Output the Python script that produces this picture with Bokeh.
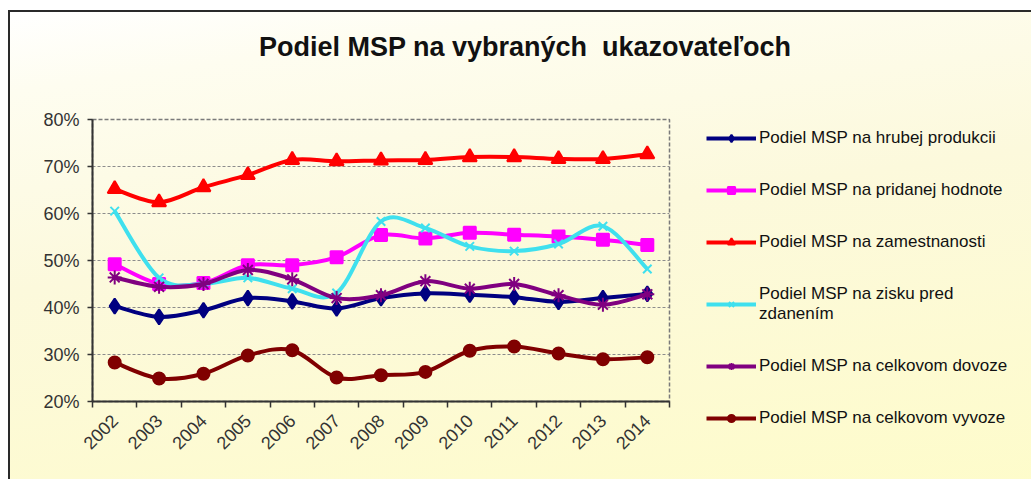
import numpy as np
from math import pi
from bokeh.plotting import figure
from bokeh.layouts import column
from bokeh.models import (FixedTicker, Legend, LegendItem, Range1d, Div,
                          PrintfTickFormatter)
from bokeh.embed import file_html
from bokeh.resources import INLINE

years = [2002, 2003, 2004, 2005, 2006, 2007, 2008, 2009, 2010, 2011, 2012, 2013, 2014]

hrubej_produkcii = [40.3, 38.0, 39.4, 42.0, 41.3, 39.8, 42.0, 43.0, 42.7, 42.2, 41.2, 42.0, 42.9]
pridanej_hodnote = [49.2, 45.0, 45.2, 49.0, 49.0, 50.7, 55.4, 54.7, 55.9, 55.5, 55.1, 54.4, 53.3]
zamestnanosti = [65.2, 62.4, 65.6, 68.2, 71.4, 71.1, 71.3, 71.4, 72.0, 72.0, 71.6, 71.6, 72.6]
zisku_pred_zdanenim = [60.5, 46.3, 45.0, 46.3, 44.0, 43.1, 58.3, 56.9, 53.0, 52.0, 53.5, 57.3, 48.2]
celkovom_dovoze = [46.4, 44.4, 45.0, 48.0, 46.0, 42.0, 42.6, 45.6, 44.0, 45.0, 42.6, 40.6, 42.8]
celkovom_vyvoze = [28.3, 24.9, 25.9, 29.8, 30.9, 25.1, 25.6, 26.3, 30.8, 31.7, 30.2, 29.0, 29.4]

labels = [
    "Podiel MSP na hrubej produkcii",
    "Podiel MSP na pridanej hodnote",
    "Podiel MSP na zamestnanosti",
    "Podiel MSP na zisku pred\nzdanením",
    "Podiel MSP na celkovom dovoze",
    "Podiel MSP na celkovom vyvoze",
]
y_ticks = [20, 30, 40, 50, 60, 70, 80]
title_text = "Podiel MSP na vybraných  ukazovateľoch"

styles = [
    ("#000080", "diamond", 15),
    ("#FF00FF", "square", 12),
    ("#FF0000", "triangle", 14),
    ("#3FE0EE", "x", 12),
    ("#800080", "asterisk", 14),
    ("#800000", "circle", 12),
]
series = [hrubej_produkcii, pridanej_hodnote, zamestnanosti,
          zisku_pred_zdanenim, celkovom_dovoze, celkovom_vyvoze]


def smooth_controls(xs, ys):
    xs = np.asarray(xs, float)
    ys = np.asarray(ys, float)
    qx = np.concatenate([[xs[0]], xs, [xs[-1]]])
    qy = np.concatenate([[ys[0]], ys, [ys[-1]]])
    i = np.arange(len(xs) - 1)
    cx0 = qx[i + 1] + (qx[i + 2] - qx[i]) / 6.0
    cy0 = qy[i + 1] + (qy[i + 2] - qy[i]) / 6.0
    cx1 = qx[i + 2] - (qx[i + 3] - qx[i + 1]) / 6.0
    cy1 = qy[i + 2] - (qy[i + 3] - qy[i + 1]) / 6.0
    return dict(x0=xs[:-1], y0=ys[:-1], x1=xs[1:], y1=ys[1:],
                cx0=cx0, cy0=cy0, cx1=cx1, cy1=cy1)


FW = 1020
DIV_H = 60
p = figure(frame_width=577, frame_height=282, output_backend="svg", toolbar_location=None,
           x_range=Range1d(2001.5, 2014.5), y_range=Range1d(20, 80),
           min_border_left=82, min_border_right=361, min_border_top=37,
           min_border_bottom=78)
p.border_fill_color = None
p.background_fill_color = None

p.outline_line_color = "#7a7a7a"
p.outline_line_dash = "4 2"
p.outline_line_width = 1.5

p.xgrid.visible = False
p.ygrid.grid_line_color = "#8c8c8c"
p.ygrid.grid_line_dash = "3 2"
p.ygrid.grid_line_width = 1

p.yaxis.ticker = FixedTicker(ticks=y_ticks)
p.yaxis.formatter = PrintfTickFormatter(format="%d%%")
p.yaxis.major_tick_out = 5
p.yaxis.major_tick_in = 0
p.yaxis.minor_tick_line_color = None
p.yaxis.axis_line_color = "#333333"
p.yaxis.axis_line_width = 2
p.yaxis.major_tick_line_color = "#333333"
p.yaxis.major_tick_line_width = 1.5
p.yaxis.major_label_text_font = "Liberation Sans"
p.yaxis.major_label_text_font_size = "18px"
p.yaxis.major_label_text_color = "#333333"
p.yaxis.major_label_standoff = 8

boundaries = [y - 0.5 for y in years] + [years[-1] + 0.5]
p.xaxis.ticker = FixedTicker(ticks=years, minor_ticks=boundaries)
p.xaxis.major_tick_line_color = None
p.xaxis.minor_tick_in = 0
p.xaxis.minor_tick_out = 6
p.xaxis.minor_tick_line_color = "#333333"
p.xaxis.minor_tick_line_width = 1.5
p.xaxis.axis_line_color = "#333333"
p.xaxis.axis_line_width = 2
p.xaxis.major_label_orientation = pi / 4
p.xaxis.major_label_text_font = "Liberation Sans"
p.xaxis.major_label_text_font_size = "18px"
p.xaxis.major_label_text_color = "#333333"
p.xaxis.major_label_standoff = 10

items = []
for lab, vals, (color, marker, size) in zip(labels, series, styles):
    bz = p.bezier(source=smooth_controls(years, vals), x0="x0", y0="y0", x1="x1", y1="y1",
                  cx0="cx0", cy0="cy0", cx1="cx1", cy1="cy1",
                  line_color=color, line_width=4)
    sc = p.scatter(years, vals, marker=marker, size=size, fill_color=color,
                   line_color=color, line_width=2)
    items.append(LegendItem(label=lab, renderers=[bz, sc]))

legend = Legend(items=items, location=(37, -27), border_line_color=None,
                background_fill_alpha=0, label_text_font="Liberation Sans",
                label_text_font_size="17px", label_text_color="#111111",
                glyph_width=50, glyph_height=18, label_height=18, spacing=32,
                padding=0, margin=0, label_standoff=3)
p.add_layout(legend, "right")

title_div = Div(
    text=('<div style="width:%dpx;text-align:center;white-space:pre;'
          'font-family:\'Liberation Sans\';font-weight:bold;font-size:27px;'
          'line-height:32px;padding-top:14px;color:#111111;">%s</div>') % (FW, title_text),
    width=FW, height=DIV_H)

layout = column(title_div, p, spacing=0)
layout.styles = {
    "background": "linear-gradient(172deg, #ffffff 0%, #fefdf0 12%, #fcf9dc 42%, #fefcc8 100%)",
    "border-left": "2px solid #2a2a2a",
    "border-top": "2px solid #2a2a2a",
    "margin-left": "8px",
    "margin-top": "10px",
}

open("out.html", "w").write(file_html(layout, INLINE))
